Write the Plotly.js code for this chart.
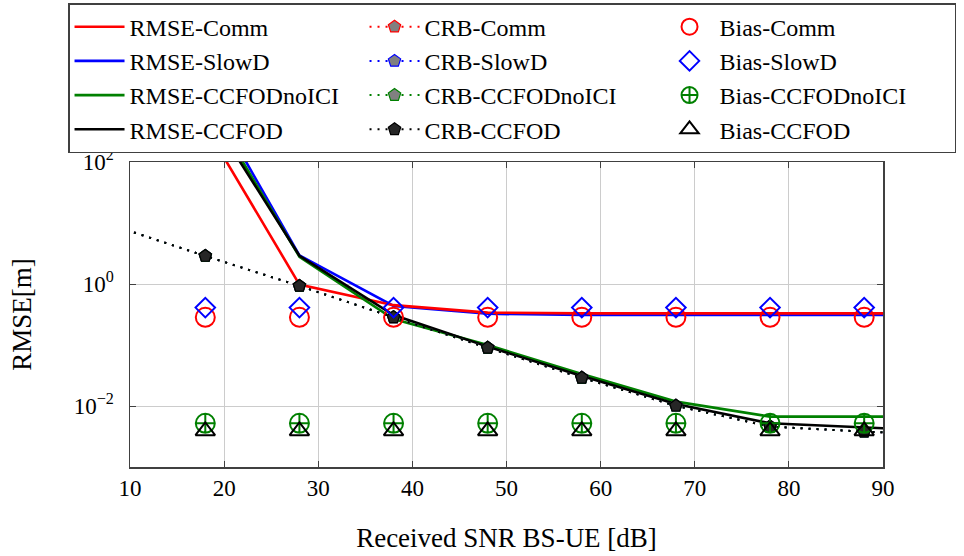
<!DOCTYPE html>
<html>
<head>
<meta charset="utf-8">
<script src="https://cdn.plot.ly/plotly-3.0.1.min.js"></script>
<style>
  html, body { margin: 0; padding: 0; background: #fff; }
  #chart { width: 964px; height: 556px; }
</style>
</head>
<body>
<div id="chart"></div>
<script>
// Received SNR grid [dB]
const snrRmse = [18, 28, 38, 48, 58, 68, 78, 88, 98];
const snrCrb  = [8, 18, 28, 38, 48, 58, 68, 78, 88, 98];
const snrBias = [18, 28, 38, 48, 58, 68, 78, 88];

// RMSE of the position estimate [m]
const rmseComm     = [389, 0.98, 0.45, 0.34, 0.33, 0.33, 0.33, 0.33, 0.33];
const rmseSlowD    = [1490, 2.95, 0.436, 0.325, 0.31, 0.31, 0.31, 0.31, 0.31];
const rmseNoICI    = [1070, 2.8, 0.267, 0.1, 0.0335, 0.0118, 0.0067, 0.0067, 0.0067];
const rmseCCFOD    = [800, 2.9, 0.31, 0.094, 0.031, 0.0108, 0.0052, 0.0044, 0.0038];

// Cramer-Rao bound (shared by the four receivers)
const crb = [9.3, 2.88, 0.93, 0.284, 0.09, 0.029, 0.0101, 0.0046, 0.0038, 0.0034];

// Bias of the estimate [m]
const biasComm  = [0.284, 0.284, 0.284, 0.284, 0.284, 0.284, 0.284, 0.284];
const biasSlowD = [0.41, 0.41, 0.41, 0.41, 0.41, 0.41, 0.41, 0.41];
const biasNoICI = [0.0052, 0.0052, 0.0052, 0.0052, 0.0052, 0.0052, 0.0052, 0.0052];
const biasCCFOD = [0.0039, 0.0039, 0.0039, 0.0039, 0.0039, 0.0039, 0.0039, 0.0039];

// Axis ticks
const xTicks = [10, 20, 30, 40, 50, 60, 70, 80, 90];
const yTickVals = [0.01, 1, 100];
const yTickText = ['10<sup>\u22122</sup>', '10<sup>0</sup>', '10<sup>2</sup>'];

const RED = '#ff0000', BLUE = '#0000ff', GREEN = '#008000', BLACK = '#000000';
const SERIF = 'Liberation Serif, DejaVu Serif, serif';

function rmseTrace(name, y, color, rank) {
  return { x: snrRmse, y: y, name: name, type: 'scatter', mode: 'lines',
           line: { color: color, width: 2.6 }, legendrank: rank, cliponaxis: true };
}
function crbTrace(name, color, fill, rank) {
  return { x: snrCrb, y: crb, name: name, type: 'scatter', mode: 'lines+markers',
           line: { color: color, width: 2, dash: '2px,6px' },
           marker: { symbol: 'pentagon', size: 13, color: fill, line: { color: color, width: 1.2 } },
           legendrank: rank, cliponaxis: true };
}
function biasTrace(name, y, color, symbol, size, rank) {
  return { x: snrBias, y: y, name: name, type: 'scatter', mode: 'markers',
           marker: { symbol: symbol, size: size, color: color, line: { color: color, width: 2 } },
           legendrank: rank, cliponaxis: true };
}

const data = [
  rmseTrace('RMSE-SlowD', rmseSlowD, BLUE, 4),
  rmseTrace('RMSE-Comm', rmseComm, RED, 1),
  rmseTrace('RMSE-CCFODnoICI', rmseNoICI, GREEN, 7),
  rmseTrace('RMSE-CCFOD', rmseCCFOD, BLACK, 10),
  crbTrace('CRB-Comm', RED, '#808080', 2),
  crbTrace('CRB-SlowD', BLUE, '#808080', 5),
  crbTrace('CRB-CCFODnoICI', GREEN, '#808080', 8),
  crbTrace('CRB-CCFOD', BLACK, '#262626', 11),
  biasTrace('Bias-Comm', biasComm, RED, 'circle-open', 19, 3),
  biasTrace('Bias-SlowD', biasSlowD, BLUE, 'diamond-open', 15, 6),
  biasTrace('Bias-CCFODnoICI', biasNoICI, GREEN, 'circle-cross-open', 19, 9),
  biasTrace('Bias-CCFOD', biasCCFOD, BLACK, 'triangle-up-open', 17, 12)
];

const layout = {
  width: 964, height: 556,
  margin: { l: 130, r: 81, t: 162, b: 89, autoexpand: false },
  paper_bgcolor: '#ffffff', plot_bgcolor: '#ffffff',
  font: { family: SERIF, size: 22, color: '#000' },
  showlegend: true,
  legend: {
    orientation: 'h', x: -0.0823, xanchor: 'left', y: 1.521, yanchor: 'top',
    bgcolor: '#ffffff', bordercolor: '#404040', borderwidth: 1.5,
    font: { family: SERIF, size: 24, color: '#000' },
    itemwidth: 50, entrywidth: 230, entrywidthmode: 'pixels',
    traceorder: 'normal', itemclick: false
  },
  xaxis: {
    range: [10, 90], tickmode: 'array', tickvals: xTicks,
    showgrid: true, gridcolor: '#cccccc', gridwidth: 1,
    showline: true, linecolor: '#404040', linewidth: 1.5, mirror: 'ticks',
    ticks: 'inside', ticklen: 6, tickwidth: 1, tickcolor: '#404040',
    zeroline: false, automargin: false, ticklabelstandoff: 0,
    tickfont: { family: SERIF, size: 23 },
    title: { text: 'Received SNR BS-UE [dB]', font: { family: SERIF, size: 27 }, standoff: 28 }
  },
  yaxis: {
    type: 'log', range: [-3, 2], tickmode: 'array', tickvals: yTickVals, ticktext: yTickText,
    showgrid: true, gridcolor: '#cccccc', gridwidth: 1,
    showline: true, linecolor: '#404040', linewidth: 1.5, mirror: 'ticks',
    ticks: 'inside', ticklen: 6, tickwidth: 1, tickcolor: '#404040',
    zeroline: false, automargin: false, ticklabelstandoff: 10,
    tickfont: { family: SERIF, size: 23 },
    title: { text: 'RMSE[m]', font: { family: SERIF, size: 27 }, standoff: 34 }
  }
};

Plotly.newPlot('chart', data, layout, { displayModeBar: false, staticPlot: true });
</script>
</body>
</html>
